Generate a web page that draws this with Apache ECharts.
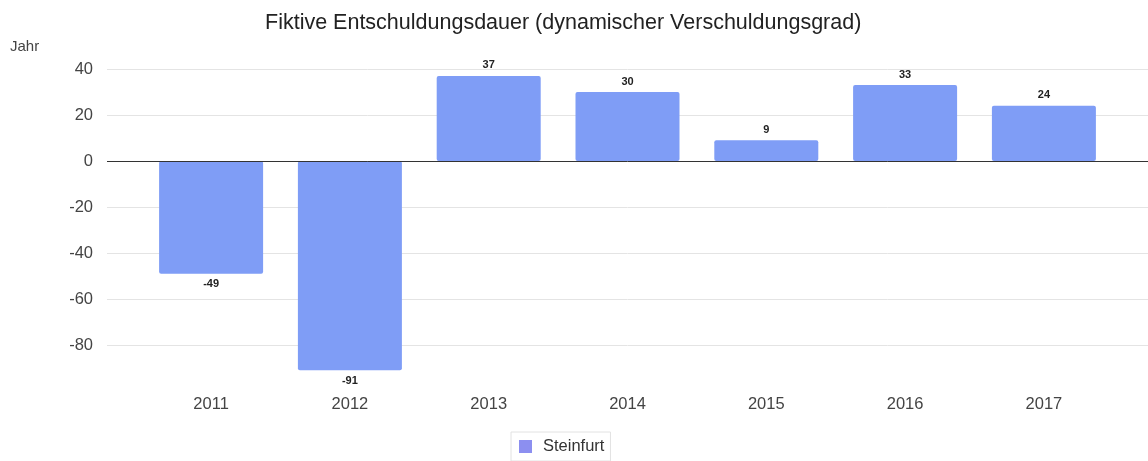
<!DOCTYPE html>
<html>
<head>
<meta charset="utf-8">
<script src="https://cdn.jsdelivr.net/npm/echarts@6/dist/echarts.min.js"></script>
<style>
  html, body { margin: 0; padding: 0; background: #fff; }
  #chart { width: 1148px; height: 461px; }
</style>
</head>
<body>
<div id="chart"></div>
<script>
// Werte
const years = ["2011", "2012", "2013", "2014", "2015", "2016", "2017"];
const steinfurt = [-49, -91, 37, 30, 9, 33, 24];
const yTicks = { min: -100, max: 40, step: 20 };

const chart = echarts.init(document.getElementById("chart"));
const font = "Liberation Sans, Arial, sans-serif";

const barData = steinfurt.map((v, i) => ({
  value: [i, v],
  label: { position: v < 0 ? "bottom" : "top" }
}));

const options = {
  title: {
    text: "Fiktive Entschuldungsdauer (dynamischer Verschuldungsgrad)",
    left: 265,
    top: 12,
    padding: 0,
    textStyle: { fontFamily: font, fontWeight: "normal", fontSize: 21.5, color: "#222" }
  },
  graphic: [
    {
      type: "text",
      left: 10,
      top: 39,
      style: { text: "Jahr", fontFamily: font, fontSize: 15, fill: "#444" }
    }
  ],
  grid: { left: 107, right: 0, top: 69, bottom: 70 },
  legend: {
    bottom: 0,
    left: 511,
    icon: "rect",
    itemWidth: 13,
    itemHeight: 13,
    padding: [6, 6, 6, 8],
    borderColor: "#e2e2e2",
    borderWidth: 1,
    textStyle: { fontFamily: font, fontSize: 16.5, color: "#333", padding: [0, 0, 0, 6] },
    data: [{ name: "Steinfurt", itemStyle: { color: "#8c8ff0" } }]
  },
  xAxis: {
    type: "value",
    min: -0.75,
    max: 6.75,
    axisLine: { show: false, onZero: false },
    axisTick: { show: false },
    splitLine: { show: false },
    axisLabel: {
      customValues: years.map((y, i) => i),
      formatter: v => years[v],
      margin: 5,
      fontFamily: font,
      fontSize: 16.5,
      color: "#444"
    }
  },
  yAxis: {
    type: "value",
    min: yTicks.min,
    max: yTicks.max,
    interval: yTicks.step,
    axisLine: { show: false },
    axisTick: { show: false },
    axisLabel: { showMinLabel: false, margin: 14, fontFamily: font, fontSize: 16.5, color: "#444" },
    splitLine: { showMinLine: false, lineStyle: { color: "#e4e4e4" } }
  },
  series: [
    {
      name: "Steinfurt",
      type: "bar",
      data: barData,
      barWidth: 104,
      itemStyle: { color: "#7f9df6", borderRadius: 2 },
      label: {
        show: true,
        distance: 5,
        formatter: p => p.value[1],
        fontFamily: font,
        fontSize: 11,
        fontWeight: "bold",
        color: "#222"
      },
      markLine: {
        silent: true,
        symbol: "none",
        label: { show: false },
        lineStyle: { color: "#333", width: 1, type: "solid" },
        data: [{ yAxis: 0 }]
      }
    }
  ]
};

chart.setOption(options);
window.addEventListener("resize", function() {
  chart.resize();
});
</script>
</body>
</html>
